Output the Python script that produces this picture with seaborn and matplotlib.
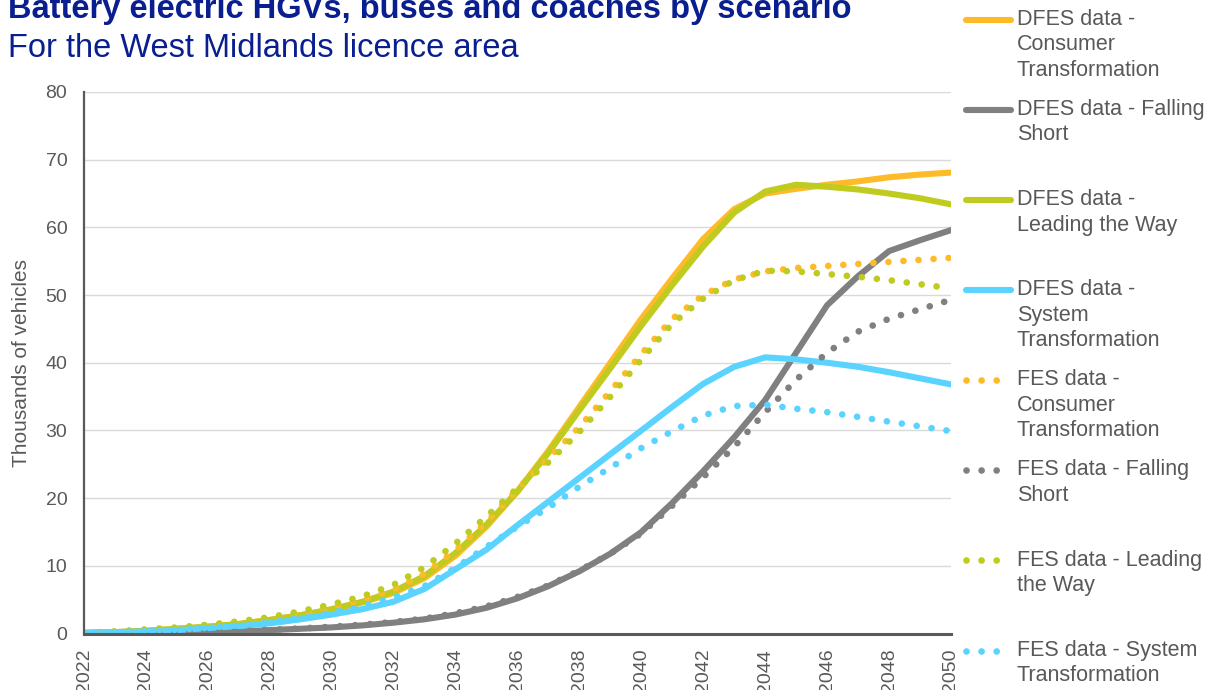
import numpy as np
import matplotlib
matplotlib.use("Agg")
import matplotlib.pyplot as plt
import seaborn as sns
from matplotlib.legend_handler import HandlerLine2D

# ── data (thousands of vehicles) ────────────────────────────
YEARS = list(range(2022, 2051))

dfes_ct = [0.1, 0.2, 0.4, 0.7, 1.0, 1.4, 2.0, 2.7, 3.5, 4.6, 6.0, 8.2, 11.5, 15.8, 21.0,
           27.0, 33.5, 40.0, 46.5, 52.5, 58.3, 62.7, 65.0, 65.7, 66.3, 66.8, 67.4, 67.8, 68.1]
dfes_fs = [0.0, 0.0, 0.05, 0.1, 0.2, 0.3, 0.5, 0.7, 0.9, 1.2, 1.6, 2.1, 2.8, 3.8, 5.2,
           7.0, 9.2, 11.8, 15.0, 19.3, 24.0, 29.0, 34.5, 41.5, 48.5, 52.8, 56.5, 58.1, 59.6]
dfes_lw = [0.1, 0.2, 0.4, 0.7, 1.0, 1.4, 2.0, 2.7, 3.6, 4.7, 6.2, 8.5, 11.9, 16.1, 21.0,
           26.7, 33.0, 39.2, 45.5, 51.5, 57.2, 62.2, 65.3, 66.3, 66.0, 65.6, 65.0, 64.3, 63.4]
dfes_st = [0.1, 0.2, 0.3, 0.5, 0.8, 1.1, 1.5, 2.1, 2.8, 3.6, 4.7, 6.6, 9.5, 12.4, 16.0,
           19.5, 23.0, 26.5, 30.0, 33.5, 36.9, 39.4, 40.8, 40.5, 40.0, 39.4, 38.6, 37.7, 36.8]
fes_ct = [0.1, 0.3, 0.5, 0.8, 1.2, 1.6, 2.2, 3.0, 3.9, 5.0, 6.5, 8.8, 12.3, 16.5, 21.3,
          25.9, 30.5, 35.8, 41.3, 46.5, 50.0, 52.3, 53.5, 54.0, 54.3, 54.6, 54.9, 55.2, 55.5]
fes_fs = [0.0, 0.05, 0.1, 0.15, 0.25, 0.35, 0.55, 0.75, 1.0, 1.3, 1.7, 2.2, 3.0, 4.0, 5.4,
          7.1, 9.3, 11.8, 14.8, 18.9, 23.1, 27.6, 32.7, 37.5, 41.5, 44.6, 46.5, 47.9, 49.3]
fes_lw = [0.1, 0.3, 0.6, 0.9, 1.3, 1.8, 2.4, 3.3, 4.3, 5.5, 7.2, 9.8, 13.3, 17.3, 21.5,
          25.3, 29.8, 35.0, 40.5, 45.8, 49.5, 52.2, 53.6, 53.5, 53.1, 52.7, 52.2, 51.6, 51.0]
fes_st = [0.1, 0.2, 0.35, 0.55, 0.85, 1.2, 1.7, 2.3, 3.1, 4.0, 5.3, 7.0, 9.7, 12.8, 15.8,
          18.6, 21.7, 24.5, 27.4, 29.9, 32.2, 33.6, 33.8, 33.2, 32.7, 32.0, 31.3, 30.6, 29.9]

# labels padded to three lines so every legend entry has the same pitch
LABELS = ["DFES data -\nConsumer\nTransformation", "DFES data - Falling\nShort\n",
          "DFES data -\nLeading the Way\n", "DFES data -\nSystem\nTransformation",
          "FES data -\nConsumer\nTransformation", "FES data - Falling\nShort\n",
          "FES data - Leading\nthe Way\n", "FES data - System\nTransformation"]
SERIES = [dfes_ct, dfes_fs, dfes_lw, dfes_st, fes_ct, fes_fs, fes_lw, fes_st]
COLORS = ["#FDBB2A", "#808080", "#BFCB1F", "#5AD3FF"] * 2
DOTTED = [False] * 4 + [True] * 4

NAVY = "#0A1F8F"
GREY_TXT = "#595959"

sns.set_theme(style="white")
plt.rcParams["font.family"] = ["Liberation Sans", "DejaVu Sans"]

W, H = 1218, 690
fig = plt.figure(figsize=(W / 100, H / 100), dpi=100)
ax = fig.add_axes([84 / W, (H - 633.5) / H, 867 / W, 541.5 / H])

for vals, label, color, dotted in zip(SERIES, LABELS, COLORS, DOTTED):
    if dotted:
        sns.lineplot(x=YEARS, y=vals, ax=ax, color=color, lw=4.8, linestyle=(0, (0.01, 2.25)),
                     dash_capstyle="round", label=label, legend=False)
    else:
        sns.lineplot(x=YEARS, y=vals, ax=ax, color=color, lw=4.4, label=label, legend=False)

ax.set_xlim(2022, 2050)
ax.set_ylim(0, 80)
ax.set_xticks(range(2022, 2051, 2))
ax.set_yticks(range(0, 81, 10))
ax.tick_params(axis="x", labelrotation=90, labelsize=14, labelcolor=GREY_TXT, length=0, pad=11)
ax.tick_params(axis="y", labelsize=14, labelcolor=GREY_TXT, length=0, pad=12)
ax.yaxis.grid(True, color="#D9D9D9", lw=1.0)
ax.set_axisbelow(True)
sns.despine(ax=ax, top=True, right=True)
ax.spines["left"].set_color("#595959")
ax.spines["left"].set_linewidth(1.6)
ax.spines["bottom"].set_color("#595959")
ax.spines["bottom"].set_linewidth(2.2)
ax.set_xlabel("")
ax.set_ylabel("Thousands of vehicles", fontsize=15, color=GREY_TXT)
ax.yaxis.set_label_coords(-0.061, 0.5)

fig.text(8 / W, 1 - 18 / H, "Battery electric HGVs, buses and coaches by scenario",
         fontsize=23.5, fontweight="bold", color=NAVY, va="baseline", ha="left")
fig.text(8 / W, 1 - 57 / H, "For the West Midlands licence area",
         fontsize=23.5, color=NAVY, va="baseline", ha="left")


# legend handles sit level with the first line of each label (Excel style)
class TopHandler(HandlerLine2D):
    def __init__(self, shift):
        super().__init__()
        self.shift = shift

    def create_artists(self, legend, orig_handle, xdescent, ydescent, width, height, fontsize, trans):
        arts = super().create_artists(legend, orig_handle, xdescent, ydescent, width,
                                      height, fontsize, trans)
        for a in arts:
            a.set_ydata(np.asarray(a.get_ydata()) + self.shift)
        return arts


handles, labels = ax.get_legend_handles_labels()
fs = 15.5
line_pitch = 25.5 * 0.72  # points
hmap = {h: TopHandler(line_pitch * (lab.count("\n")) / 2) for h, lab in zip(handles, labels)}
leg = fig.legend(handles, labels, loc="upper left", bbox_to_anchor=(966 / W, 1 - 9 / H),
                 frameon=False, fontsize=fs, handlelength=2.1, handletextpad=0.25,
                 borderpad=0, borderaxespad=0, labelspacing=0.85, handler_map=hmap)
for t in leg.get_texts():
    t.set_color(GREY_TXT)
    t.set_linespacing(1.275)

fig.savefig("out.png", dpi=100)
